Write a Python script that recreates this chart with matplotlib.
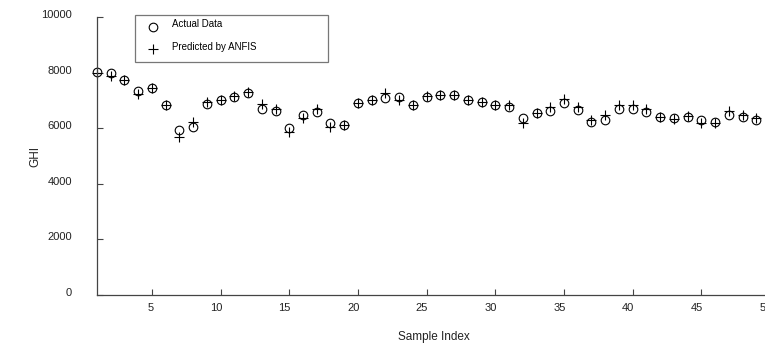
import matplotlib
matplotlib.use("Agg")
import matplotlib.pyplot as plt
import matplotlib.transforms as mtransforms
import numpy as np

plt.rcParams['font.family'] = ['Liberation Sans', 'DejaVu Sans']

# values
sample_index = list(range(1, 50))
actual_ghi = [8020, 7980, 7750, 7350, 7450, 6850, 5950, 6050, 6880, 7000,
              7130, 7280, 6700, 6610, 6000, 6480, 6590, 6200, 6130, 6900,
              7000, 7080, 7130, 6850, 7130, 7200, 7200, 7000, 6930, 6840,
              6770, 6350, 6530, 6630, 6900, 6650, 6230, 6310, 6700, 6700,
              6590, 6420, 6370, 6410, 6300, 6230, 6480, 6410, 6280]
predicted_ghi = [8000, 7880, 7750, 7230, 7450, 6850, 5700, 6220, 6960, 7030,
                 7160, 7300, 6860, 6700, 5880, 6370, 6680, 6030, 6130, 6910,
                 7030, 7250, 7030, 6850, 7150, 7210, 7210, 7010, 6950, 6850,
                 6850, 6180, 6530, 6770, 7060, 6770, 6310, 6470, 6830, 6830,
                 6700, 6410, 6340, 6430, 6190, 6170, 6610, 6470, 6370]
x_ticks = [5, 10, 15, 20, 25, 30, 35, 40, 45, 50]
y_ticks = [0, 2000, 4000, 6000, 8000, 10000]

fig = plt.figure(figsize=(7.65, 3.47), dpi=100)
ax = fig.add_axes([97 / 765, 52 / 347, 673 / 765, 278 / 347])

ax.plot(sample_index, actual_ghi, linestyle='none', marker='o', markersize=6.2,
        markerfacecolor='none', markeredgecolor='black', markeredgewidth=0.8,
        label='Actual Data', clip_on=False)
ax.plot(sample_index, predicted_ghi, linestyle='none', marker='+', markersize=7.5,
        color='black', markeredgewidth=0.8, label='Predicted by ANFIS', clip_on=False)

ax.set_xlim(1, 50)
ax.set_ylim(0, 10000)
ax.set_xticks(x_ticks)
ax.set_yticks(y_ticks)

for side in ['top', 'right']:
    ax.spines[side].set_visible(False)
for side in ['left', 'bottom']:
    ax.spines[side].set_color('#444444')
    ax.spines[side].set_linewidth(0.9)

ax.tick_params(axis='both', direction='in', length=4.5, width=0.8, color='#444444',
               labelsize=8, labelcolor='#222222')
ax.tick_params(axis='y', pad=18)
ax.tick_params(axis='x', pad=6)

# x labels sit right-aligned on their ticks, y labels a little above theirs
for lbl in ax.get_xticklabels():
    lbl.set_horizontalalignment('right')
    lbl.set_transform(lbl.get_transform() + mtransforms.ScaledTranslation(1.5 / 100, 0, fig.dpi_scale_trans))
for lbl in ax.get_yticklabels():
    lbl.set_transform(lbl.get_transform() + mtransforms.ScaledTranslation(0, 3 / 100, fig.dpi_scale_trans))

ax.set_xlabel('Sample Index', fontsize=8.5, color='#222222', labelpad=13)
ax.set_ylabel('GHI', fontsize=8.5, color='#222222', labelpad=0)

leg = ax.legend(loc='upper left', bbox_to_anchor=(0.0565, 1.008, 0.286, 0.0),
                mode='expand', fontsize=7, frameon=True, fancybox=False,
                edgecolor='#555555', borderpad=0.75, labelspacing=1.3,
                handlelength=2.3, handletextpad=0.8, borderaxespad=0)
leg.get_frame().set_linewidth(0.9)
for txt in leg.get_texts():
    txt.set_transform(txt.get_transform() + mtransforms.ScaledTranslation(0, 3 / 100, fig.dpi_scale_trans))

fig.savefig('out.png', dpi=100)
